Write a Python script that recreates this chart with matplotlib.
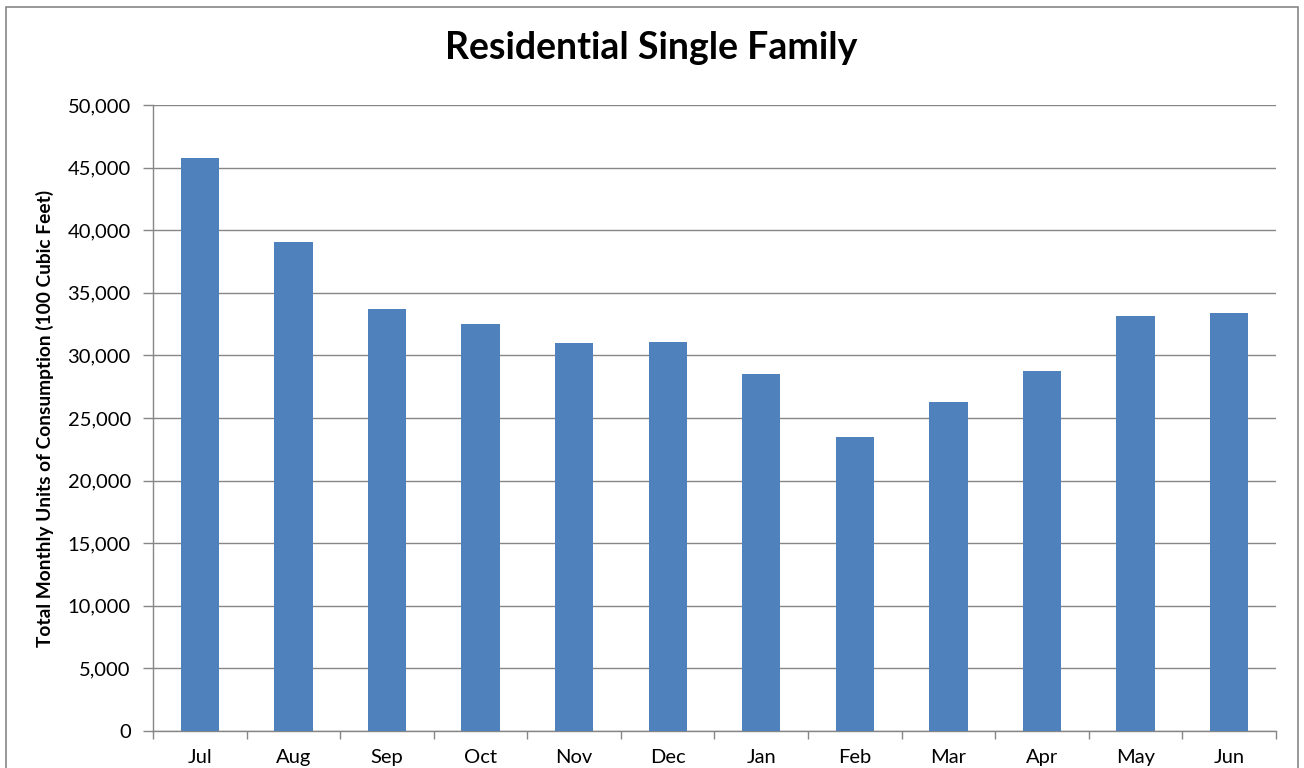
import matplotlib
matplotlib.use("Agg")
import matplotlib.pyplot as plt
from matplotlib.patches import Rectangle
from matplotlib.ticker import FuncFormatter

months = ["Jul", "Aug", "Sep", "Oct", "Nov", "Dec", "Jan", "Feb", "Mar", "Apr", "May", "Jun"]
consumption = [45750, 39050, 33700, 32500, 31000, 31100, 28500, 23500, 26300, 28750, 33150, 33400]
y_ticks = [0, 5000, 10000, 15000, 20000, 25000, 30000, 35000, 40000, 45000, 50000]

plt.rcParams['font.family'] = ['Lato', 'DejaVu Sans']

fig = plt.figure(figsize=(13.04, 7.68), dpi=100)
W, H = 1304, 768
ax = fig.add_axes([153 / W, 1 - 731 / H, (1276 - 153) / W, (731 - 105) / H])

x = list(range(len(months)))
ax.bar(x, consumption, width=0.41, color="#4F81BD", zorder=3)

ax.set_xlim(-0.5, len(months) - 0.5)
ax.set_ylim(0, 50000)
ax.set_yticks(y_ticks)
ax.yaxis.set_major_formatter(FuncFormatter(lambda v, p: f"{int(v):,}"))
ax.set_xticks(x)
ax.set_xticklabels(months)
ax.set_xticks([i - 0.5 for i in range(len(months) + 1)], minor=True)
ax.tick_params(axis='x', which='major', length=0, labelsize=14.5, pad=13)
ax.tick_params(axis='x', which='minor', length=6, width=1, color="#868686", direction='out')
ax.tick_params(axis='y', length=7, width=1, color="#868686", labelsize=14.5, pad=9)

ax.grid(axis='y', color="#868686", linewidth=1, zorder=0)
for s in ['top', 'right']:
    ax.spines[s].set_visible(False)
for s in ['left', 'bottom']:
    ax.spines[s].set_color("#868686")
    ax.spines[s].set_linewidth(1)

ax.set_ylabel("Total Monthly Units of Consumption (100 Cubic Feet)", fontsize=13.8, fontweight='bold', labelpad=10)
fig.text(651 / W, 1 - 48 / H, "Residential Single Family", fontsize=27, fontweight='bold', ha='center', va='center')

fig.patches.append(Rectangle((6 / W, -0.05), (1298 - 6) / W, 1 - 7 / H + 0.05, transform=fig.transFigure,
                             fill=False, edgecolor="#868686", linewidth=1.2))

fig.savefig("out.png", dpi=100)
